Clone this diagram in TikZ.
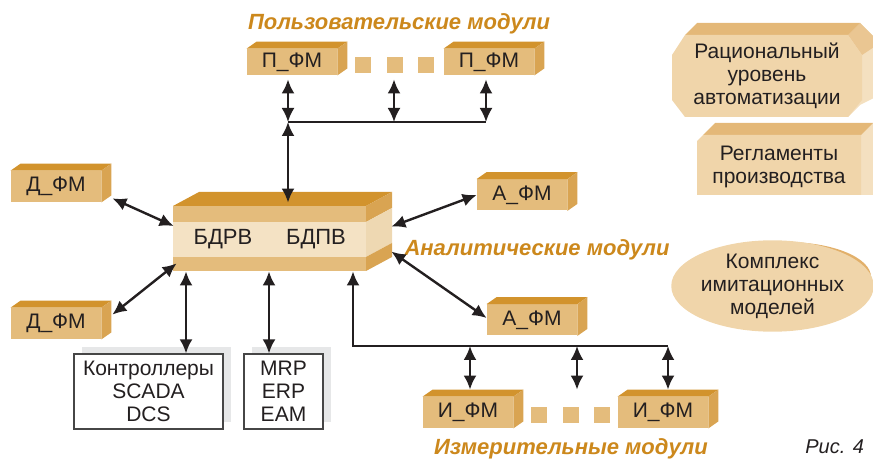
\documentclass[tikz,border=0pt]{standalone}
\usepackage{fontspec}
\setmainfont{Liberation Sans}
\usetikzlibrary{arrows.meta,shapes.geometric,shadows,calc}

\definecolor{fmtop}{RGB}{210,147,45}
\definecolor{fmfront}{RGB}{228,188,124}
\definecolor{fmside}{RGB}{217,164,82}
\definecolor{bdlight}{RGB}{244,226,196}
\definecolor{bdside}{RGB}{238,216,178}
\definecolor{pnfront}{RGB}{240,213,170}
\definecolor{pntop}{RGB}{228,184,120}
\definecolor{pnchamf}{RGB}{234,198,146}
\definecolor{pnside}{RGB}{244,224,192}
\definecolor{ellback}{RGB}{226,176,106}
\definecolor{lblorange}{RGB}{204,136,28}
\definecolor{ink}{RGB}{35,31,32}
\definecolor{boxline}{RGB}{70,70,70}
\definecolor{shadowgray}{RGB}{230,231,232}

\newcommand{\fmfaces}[1]{%
  \fill[fmtop] (#1.north west) -- ++(10,-7) -- ([shift={(10,-7)}]#1.north east) -- (#1.north east) -- cycle;
  \fill[fmside] (#1.north east) -- ++(10,-7) -- ([shift={(10,-7)}]#1.south east) -- (#1.south east) -- cycle;}

\begin{document}
\begin{tikzpicture}[x=0.5pt, y=-0.5pt, >={Latex[length=7pt,width=6.5pt]},
    fm/.style={fill=fmfront, text=ink, minimum width=45pt, minimum height=15.5pt, inner sep=0pt, font=\fontsize{10.5}{12}\selectfont},
    sq/.style={fill=fmfront, minimum size=8pt, inner sep=0pt},
    sysbox/.style={draw=boxline, line width=0.6pt, fill=white, text=ink, align=center, inner sep=0pt, minimum height=37.5pt,
        font=\fontsize{10.5}{11.5}\selectfont, drop shadow={shadow xshift=4pt, shadow yshift=3.5pt, fill=shadowgray, opacity=1}},
    pntext/.style={text=ink, align=center, font=\fontsize{10.5}{11.5}\selectfont},
    lbl/.style={text=lblorange, font=\fontsize{11}{13}\selectfont\bfseries\itshape},
    link/.style={draw=ink, line width=1.2pt}]
    \useasboundingbox (0,0) rectangle (873,459);

    \node[lbl] (puser) at (399,24) {Пользовательские модули};
    \node[lbl] (panal) at (537,250) {Аналитические модули};
    \node[lbl] (pmeas) at (571,449) {Измерительные модули};
    \node[anchor=east, text=ink, font=\fontsize{10}{12}\selectfont\itshape] (fig) at (871,447) {Рис. 4};

    \node[fm, minimum height=13pt] (pfm1) at (292,62) {П\_ФМ}; \fmfaces{pfm1}
    \node[fm, minimum height=13pt] (pfm2) at (489,62) {П\_ФМ}; \fmfaces{pfm2}
    \node[sq] (psq1) at (363,65) {};
    \node[sq] (psq2) at (395,65) {};
    \node[sq] (psq3) at (426,65) {};

    \node[fm] (dfm1) at (56,186.5) {Д\_ФМ}; \fmfaces{dfm1}
    \node[fm] (dfm2) at (56,323.5) {Д\_ФМ}; \fmfaces{dfm2}
    \node[fm] (afm1) at (522,195) {А\_ФМ}; \fmfaces{afm1}
    \node[fm] (afm2) at (532,320) {А\_ФМ}; \fmfaces{afm2}
    \node[fm] (ifm1) at (468,412.5) {И\_ФМ}; \fmfaces{ifm1}
    \node[fm] (ifm2) at (663,412.5) {И\_ФМ}; \fmfaces{ifm2}
    \node[sq] (isq1) at (539,415) {};
    \node[sq] (isq2) at (571,415) {};
    \node[sq] (isq3) at (602,415) {};

    \fill[fmtop] (173,206) -- (199,192) -- (392,192) -- (366,206) -- cycle;
    \fill[fmfront] (173,206) rectangle (366,222);
    \fill[bdlight] (173,222) rectangle (366,257);
    \fill[fmfront] (173,257) rectangle (366,271);
    \fill[fmside] (366,206) -- (392,192) -- (392,208) -- (366,222) -- cycle;
    \fill[bdside] (366,222) -- (392,208) -- (392,243) -- (366,257) -- cycle;
    \fill[fmside] (366,257) -- (392,243) -- (392,257) -- (366,271) -- cycle;
    \node[minimum width=96.5pt, minimum height=32.5pt, inner sep=0pt] (bd) at (269.5,238.5) {};
    \node[text=ink, font=\fontsize{11}{13}\selectfont] (bdrv) at (223,239) {БДРВ};
    \node[text=ink, font=\fontsize{11}{13}\selectfont] (bdpv) at (316,239) {БДПВ};

    \node[sysbox, minimum width=74.5pt] (ctrl) at (148.5,391.5) {Контроллеры\\SCADA\\DCS};
    \node[sysbox, minimum width=39.5pt] (mrp) at (283.5,391.5) {MRP\\ERP\\EAM};

    \fill[pnside] (848,35) -- (860,23) -- (880,43) -- (880,95) -- (860,105) -- (848,117) -- cycle;
    \fill[pnchamf] (848,35) -- (860,23) -- (880,43) -- (862,55) -- cycle;
    \fill[pntop] (685,35) -- (697,23) -- (860,23) -- (848,35) -- cycle;
    \fill[pnfront] (685,35) -- (848,35) -- (862,55) -- (862,100) -- (848,117) -- (685,117) -- (672,100) -- (672,55) -- cycle;
    \node[pntext] (rau) at (767,76) {Рациональный\\уровень\\автоматизации};

    \fill[pnside] (861,135) -- (873,123) -- (880,123) -- (880,195) -- (861,195) -- cycle;
    \fill[pntop] (703,135) -- (715,123) -- (873,123) -- (861,135) -- cycle;
    \fill[pnfront] (703,135) -- (861,135) -- (861,195) -- (697,195) -- (697,141) -- cycle;
    \node[pntext] (reg) at (779,167) {Регламенты\\производства};

    \fill[ellback] (786,277) ellipse [x radius=42.5pt, y radius=17.5pt];
    \node[ellipse, fill=pnfront, minimum width=84.5pt, minimum height=34pt, inner sep=0pt, pntext] (kim) at (772.5,286) {Комплекс\\имитационных\\моделей};

    \coordinate (pbus1) at (288,122);
    \coordinate (pbus2) at (486,122);
    \coordinate (pa2) at ($(psq2.south)+(-1,6)$);
    \draw[link] (pbus1) -- (pbus2);
    \draw[link, <->] ($(pfm1.south)+(-4,4)$) -- (pbus1);
    \draw[link, <->] (pa2) -- (pa2 |- pbus1);
    \draw[link, <->] ($(pfm2.south)+(-3,4)$) -- (pbus2);
    \draw[link, <->] (pbus1) -- ($(pbus1 |- bd.north)+(0,-3)$);

    \draw[link, <->] ($(dfm1.south east)+(11,-4)$) -- ($(bd.west)+(1,-12.5)$);
    \draw[link, <->] ($(dfm2.north east)+(11,7)$) -- ($(bd.south west)+(4,-8)$);
    \draw[link, <->] (afm1.west) -- ($(bd.north east)+(25,21)$);
    \draw[link, <->] ($(afm2.west)+(0,-2)$) -- ($(bd.north east)+(25,46)$);

    \coordinate (ca) at ($(ctrl.north)+(37.5,0)$);
    \coordinate (ma) at ($(mrp.north)+(-14.5,0)$);
    \draw[link, <->] (ca) -- (ca |- bd.south);
    \draw[link, <->] (ma) -- (ma |- bd.south);

    \coordinate (ibus1) at (353,346);
    \coordinate (ibus2) at (668,346);
    \draw[link, ->] (ibus2) -- (ibus1) -- (ibus1 |- bd.south);
    \coordinate (ia1) at ($(ifm1.north)+(2,-7)$);
    \coordinate (ia2) at ($(isq2.north)+(6,-17)$);
    \coordinate (ia3) at ($(ifm2.north)+(5,-7)$);
    \draw[link, <->] (ia1) -- (ia1 |- ibus1);
    \draw[link, <->] (ia2) -- (ia2 |- ibus1);
    \draw[link, <->] (ia3) -- (ia3 |- ibus1);
\end{tikzpicture}
\end{document}
